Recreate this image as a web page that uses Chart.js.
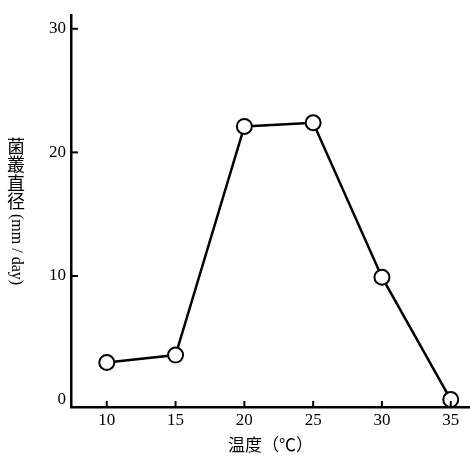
<!DOCTYPE html>
<html>
<head>
<meta charset="utf-8">
<script src="https://cdn.jsdelivr.net/npm/chart.js@4.4.1/dist/chart.umd.min.js"></script>
<style>
  html, body { margin: 0; padding: 0; background: #fff; }
  #wrap { width: 470px; height: 469px; }
</style>
</head>
<body>
<div id="wrap"><canvas id="growthChart" width="470" height="469"></canvas></div>
<script>
// Data
const temps = [10, 15, 20, 25, 30, 35]
const diameters = [3.0, 3.6, 22.1, 22.4, 9.9, 0]
const xTickValues = [10, 15, 20, 25, 30, 35]
const yTickValues = [0, 10, 20, 30]
const yTitleChars = ['菌', '叢', '直', '径']
const yTitleUnit = '(mm / day)'

const ink = '#000000'
const tickFont = { family: 'Liberation Serif', size: 17 }

// inward tick marks + vertical y title
const axisDecor = {
  id: 'axisDecor',
  afterDraw(chart) {
    const c = chart.ctx
    const xs = chart.scales.x
    const ys = chart.scales.y
    const area = chart.chartArea
    c.save()
    c.strokeStyle = ink
    c.lineWidth = 2
    xTickValues.forEach((v) => {
      const px = xs.getPixelForValue(v)
      c.beginPath()
      c.moveTo(px, area.bottom)
      c.lineTo(px, area.bottom - 6)
      c.stroke()
    })
    yTickValues.filter((v) => v > 0).forEach((v) => {
      const py = ys.getPixelForValue(v)
      c.beginPath()
      c.moveTo(area.left, py)
      c.lineTo(area.left + 7, py)
      c.stroke()
    })

    // vertical title: CJK upright, unit rotated
    c.fillStyle = ink
    c.font = '18px "Noto Sans CJK SC"'
    c.textAlign = 'center'
    c.textBaseline = 'middle'
    let y = 146
    yTitleChars.forEach((ch) => {
      c.fillText(ch, 16, y)
      y += 18.5
    })
    c.translate(16, y - 6)
    c.rotate(Math.PI / 2)
    c.font = '16px "Liberation Serif"'
    c.textAlign = 'left'
    c.fillText(yTitleUnit, 0, 0)
    c.restore()
  }
}

const ctx = document.getElementById('growthChart').getContext('2d')
new Chart(ctx, {
  type: 'line',
  data: {
    datasets: [
      {
        data: temps.map((t, i) => ({ x: t, y: diameters[i] })),
        borderColor: ink,
        borderWidth: 2.5,
        pointRadius: 7.5,
        pointBorderWidth: 2,
        pointBackgroundColor: '#ffffff',
        pointBorderColor: ink,
        tension: 0,
        clip: false
      }
    ]
  },
  options: {
    responsive: false,
    animation: false,
    events: [],
    layout: { autoPadding: false, padding: { top: 12, right: 0, left: 0, bottom: 0 } },
    plugins: {
      legend: { display: false },
      tooltip: { enabled: false }
    },
    scales: {
      x: {
        type: 'linear',
        min: 7.4,
        max: 36.4,
        afterBuildTicks: (scale) => {
          scale.ticks = xTickValues.map((v) => ({ value: v }))
        },
        afterFit: (scale) => {
          scale.height = 62
        },
        grid: { display: false, drawTicks: false },
        border: { display: true, color: ink, width: 2.5 },
        ticks: { color: ink, font: tickFont, padding: 3, maxRotation: 0 },
        title: {
          display: true,
          text: '温度（℃）',
          color: ink,
          font: { family: 'Noto Sans CJK SC', size: 17 },
          padding: { top: 0, bottom: 14 }
        }
      },
      y: {
        min: -0.6,
        max: 31.1,
        afterBuildTicks: (scale) => {
          scale.ticks = yTickValues.map((v) => ({ value: v }))
        },
        afterFit: (scale) => {
          scale.width = 71
        },
        grid: { display: false, drawTicks: false },
        border: { display: true, color: ink, width: 2.5 },
        ticks: { color: ink, font: tickFont, padding: 5 }
      }
    }
  },
  plugins: [axisDecor]
})
</script>
</body>
</html>
